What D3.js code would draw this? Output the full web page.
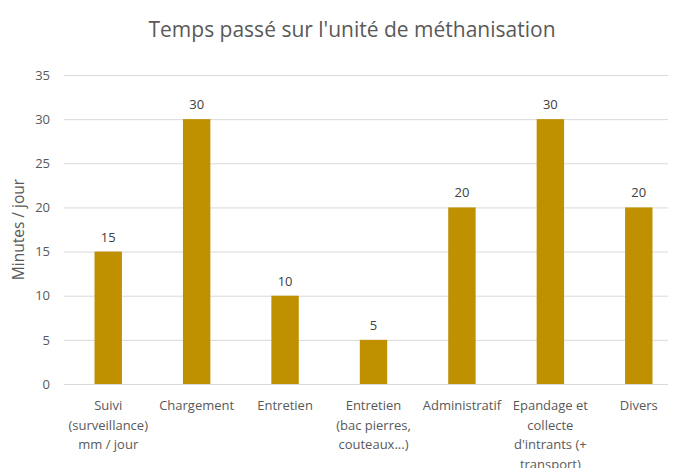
<!DOCTYPE html>
<html><head><meta charset="utf-8">
<script src="https://cdn.jsdelivr.net/npm/d3@7"></script>
<style>body{margin:0;background:#fff;} text{font-family:"Open Sans",sans-serif;}</style>
</head><body>
<svg id="chart" width="673" height="468"></svg>
<script>
const title = "Temps passé sur l'unité de méthanisation";
const yLabel = "Minutes / jour";
const categories = [
  "Suivi\n(surveillance)\nmm / jour",
  "Chargement",
  "Entretien",
  "Entretien\n(bac pierres,\ncouteaux...)",
  "Administratif",
  "Epandage et\ncollecte\nd'intrants (+\ntransport)",
  "Divers"
];
const values = [15, 30, 10, 5, 20, 30, 20];
const yTicks = [0, 5, 10, 15, 20, 25, 30, 35];

const svg = d3.select("#chart");
const plot = {left: 64, right: 683, top: 75, bottom: 384};
const gridRight = 668;
const color = "#BF9000";
const textColor = "#595959";

const x = d3.scaleBand().domain(categories).range([plot.left, plot.right]).paddingInner(0.69).paddingOuter(0.345);
const y = d3.scaleLinear().domain([0, 35]).range([plot.bottom, plot.top]);

// gridlines + tick labels
const yAxis = d3.axisLeft(y).tickValues(yTicks).tickSize(-(gridRight - plot.left)).tickPadding(14);
const gy = svg.append("g").attr("transform", `translate(${plot.left},0)`).call(yAxis);
gy.select(".domain").remove();
gy.selectAll(".tick line").attr("stroke", "#d9d9d9").attr("stroke-width", 1);
gy.selectAll(".tick text").attr("fill", textColor).style("font-size", "13px").style("font-family", "'Open Sans', sans-serif");

// bars
svg.append("g").selectAll("rect").data(values).join("rect")
  .attr("x", (d, i) => x(categories[i]))
  .attr("width", x.bandwidth())
  .attr("y", d => y(d))
  .attr("height", d => y(0) - y(d))
  .attr("fill", color);

// data labels
svg.append("g").selectAll("text").data(values).join("text")
  .attr("x", (d, i) => x(categories[i]) + x.bandwidth() / 2)
  .attr("y", d => y(d) - 10)
  .attr("text-anchor", "middle")
  .attr("fill", "#404040")
  .style("font-size", "13px")
  .text(d => d);

// x axis labels
const xl = svg.append("g");
categories.forEach(c => {
  const lines = c.split("\n");
  const cx = x(c) + x.bandwidth() / 2;
  const t = xl.append("text")
    .attr("x", cx)
    .attr("y", 410)
    .attr("text-anchor", "middle")
    .attr("fill", textColor)
    .style("font-size", "13px");
  lines.forEach((ln, k) => {
    t.append("tspan").attr("x", cx).attr("dy", k === 0 ? 0 : 19.5).text(ln);
  });
});

// title
svg.append("text").attr("x", 352).attr("y", 37).attr("text-anchor", "middle")
  .attr("fill", textColor).style("font-size", "21px").text(title);

// y label
svg.append("text").attr("transform", `translate(24,${(plot.top + plot.bottom) / 2}) rotate(-90)`)
  .attr("text-anchor", "middle").attr("fill", textColor).style("font-size", "15.5px").text(yLabel);
</script>
</body></html>
